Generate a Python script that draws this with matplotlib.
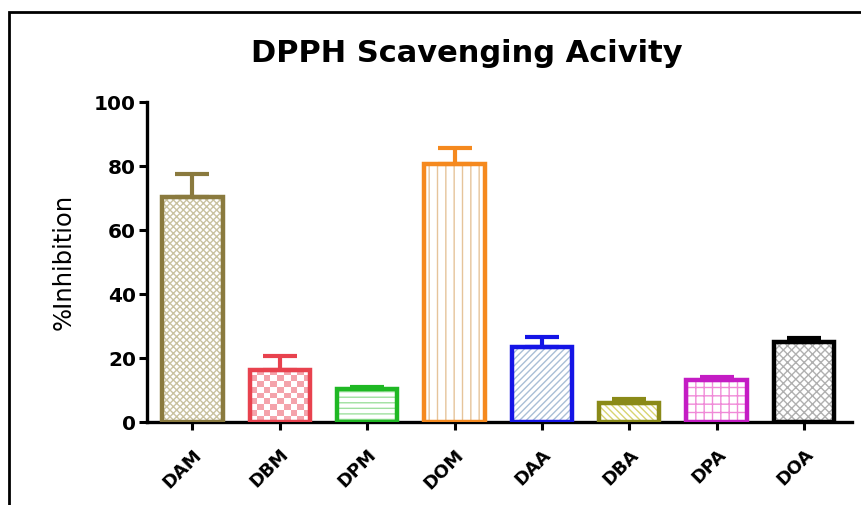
import matplotlib

matplotlib.use("Agg", force=True)
import matplotlib.pyplot as plt
import numpy as np
from matplotlib.colors import ListedColormap
from matplotlib.patches import Rectangle

plt.rcParams["font.family"] = ["DejaVu Sans"]
plt.rcParams["hatch.linewidth"] = 1.0

samples = ["DAM", "DBM", "DPM", "DOM", "DAA", "DBA", "DPA", "DOA"]
inhibition = [70.2, 16.3, 10.3, 80.6, 23.5, 5.9, 13.2, 25.1]
sem = [7.2, 4.4, 0.5, 5.0, 3.1, 1.3, 0.9, 1.2]

edge_colors = ["#8a7a3e", "#e8424e", "#1fb824", "#f5891e", "#1414e6", "#8a8a18", "#c41cc4", "#000000"]
hatch_colors = ["#c9c2a0", "#f4a3ab", "#9fe09f", "#e6c49a", "#a9bfd6", "#d8d470", "#f08ad8", "#b0b0b0"]
hatches = ["xxxxx", None, "---", "||", "/////", "\\\\\\\\\\", "++", "xxxx"]

fig = plt.figure(figsize=(8.62, 5.05), dpi=100)
ax = fig.add_axes([147 / 862, 1 - 422 / 505, (852 - 147) / 862, 320 / 505])

x = np.arange(len(samples))
width = 0.69

for i in range(len(samples)):
    if hatches[i] is None:
        # checkerboard fill, clipped to the bar
        fill = ax.bar(x[i], inhibition[i], width=width, color="white", linewidth=0, zorder=2)[0]
        rows = max(1, int(round(inhibition[i] / 1.9)))
        cols = 9
        board = np.add.outer(np.arange(rows), np.arange(cols)) % 2
        img = ax.imshow(board, extent=(x[i] - width / 2, x[i] + width / 2, 0, inhibition[i]),
                        cmap=ListedColormap(["white", hatch_colors[i]]), aspect="auto",
                        interpolation="nearest", origin="lower", zorder=2.5)
        img.set_clip_path(fill)
    else:
        ax.bar(x[i], inhibition[i], width=width, color="white", edgecolor=hatch_colors[i],
               hatch=hatches[i], linewidth=0, zorder=2)
    ax.bar(x[i], inhibition[i], width=width, fill=False, edgecolor=edge_colors[i],
           linewidth=3.2, zorder=3)
    ax.errorbar(x[i], inhibition[i], yerr=[[0], [sem[i]]], fmt="none", ecolor=edge_colors[i],
                elinewidth=3, capsize=12, capthick=3, zorder=4)

ax.set_xlim(-0.52, 7.55)
ax.set_ylim(0, 100)
ax.set_yticks([0, 20, 40, 60, 80, 100])
ax.set_xticks(x)
ax.set_xticklabels(samples, rotation=45, ha="right", rotation_mode="anchor",
                   fontsize=13, fontweight="bold")
for lbl in ax.get_yticklabels():
    lbl.set_fontsize(14.5)
    lbl.set_fontweight("bold")
ax.tick_params(axis="both", width=2.2, length=6, direction="out")
ax.tick_params(axis="x", pad=11)
ax.tick_params(axis="y", pad=2)

for side in ["top", "right"]:
    ax.spines[side].set_visible(False)
for side in ["left", "bottom"]:
    ax.spines[side].set_linewidth(2.4)

ax.set_ylabel("%Inhibition", fontsize=17.5, labelpad=13)
fig.text(0.542, 1 - 53 / 505, "DPPH Scavenging Acivity", ha="center", va="center",
         fontsize=22, fontweight="bold")

# outer frame (left/top edges visible in the reference)
fig.patches.append(Rectangle((9 / 862, -0.1), 1.2, 1 - 12 / 505 + 0.1, transform=fig.transFigure,
                             fill=False, edgecolor="black", linewidth=2, zorder=0))

fig.savefig("out.png", dpi=100)
